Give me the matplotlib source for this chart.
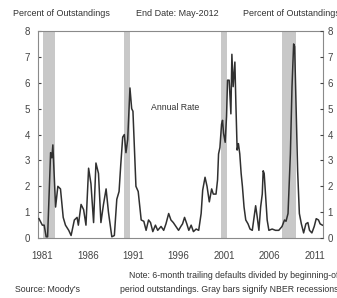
import matplotlib
matplotlib.use("Agg")
import matplotlib.pyplot as plt

plt.rcParams['font.family'] = ['Liberation Sans', 'DejaVu Sans']

years = [1981.1, 1981.47, 1981.67, 1981.89, 1982.05, 1982.38, 1982.52, 1982.63, 1982.93,
         1983.18, 1983.47, 1983.77, 1984.02, 1984.38, 1984.64, 1985.0, 1985.3, 1985.44,
         1985.74, 1986.02, 1986.28, 1986.57, 1986.83, 1987.12, 1987.38, 1987.66, 1987.93,
         1988.21, 1988.5, 1988.76, 1989.13, 1989.41, 1989.68, 1989.93, 1990.11, 1990.33,
         1990.51, 1990.69, 1990.88, 1991.13, 1991.32, 1991.46, 1991.79, 1992.04, 1992.37,
         1992.66, 1992.91, 1993.18, 1993.4, 1993.65, 1993.94, 1994.19, 1994.56, 1994.85,
         1995.1, 1995.4, 1995.65, 1995.91, 1996.2, 1996.49, 1996.74, 1996.93, 1997.15,
         1997.4, 1997.62, 1997.88, 1998.13, 1998.43, 1998.71, 1998.98, 1999.15, 1999.41,
         1999.63, 1999.88, 2000.14, 2000.32, 2000.62, 2000.79, 2000.9, 2001.05, 2001.23,
         2001.34, 2001.45, 2001.63, 2001.78, 2001.89, 2002.07, 2002.26, 2002.37, 2002.51,
         2002.7, 2002.81, 2002.95, 2003.09, 2003.24, 2003.39, 2003.53, 2003.71, 2003.9,
         2004.15, 2004.37, 2004.62, 2004.81, 2004.99, 2005.17, 2005.35, 2005.54, 2005.72,
         2005.82, 2005.93, 2006.09, 2006.26, 2006.45, 2006.81, 2007.18, 2007.54, 2007.9,
         2008.17, 2008.34, 2008.56, 2008.82, 2009.0, 2009.18, 2009.29, 2009.44, 2009.62,
         2009.81, 2010.03, 2010.28, 2010.53, 2010.75, 2010.93, 2011.19, 2011.45, 2011.67,
         2011.92, 2012.1, 2012.35]
rates = [0.75, 0.5, 0.5, 0.05, 0.05, 3.3, 3.1, 3.6, 1.2,
         2.0, 1.9, 0.8, 0.5, 0.3, 0.1, 0.7, 0.8, 0.5,
         1.3, 1.1, 0.5, 2.7, 2.1, 0.6, 2.9, 2.5, 0.6,
         1.3, 1.9, 1.0, 0.05, 0.1, 1.5, 1.8, 2.8, 3.9,
         4.0, 3.3, 3.8, 5.8, 5.0, 4.9, 2.0, 1.8, 0.7,
         0.65, 0.3, 0.7, 0.6, 0.25, 0.5, 0.3, 0.45, 0.3,
         0.55, 0.95, 0.7, 0.6, 0.45, 0.3, 0.45, 0.55, 0.8,
         0.55, 0.3, 0.5, 0.25, 0.35, 0.3, 0.95, 1.85, 2.35,
         2.0, 1.4, 1.9, 1.7, 1.7, 2.25, 3.25, 3.5, 4.4,
         4.55, 4.05, 3.7, 4.7, 6.1, 6.1, 4.8, 7.1, 5.85,
         6.8, 5.2, 3.4, 3.65, 3.25, 2.5, 2.0, 1.2, 0.7,
         0.55, 0.35, 0.3, 0.8, 1.25, 0.8, 0.3, 1.2, 1.7,
         2.6, 2.5, 1.6, 0.7, 0.3, 0.35, 0.3, 0.3, 0.45,
         0.7, 0.65, 0.95, 3.25, 5.85, 7.5, 7.4, 5.2, 2.6,
         0.95, 0.55, 0.2, 0.55, 0.6, 0.3, 0.2, 0.45, 0.75,
         0.7, 0.55, 0.5]

rec_start = [1981.5, 1990.5, 2001.17, 2007.92]
rec_end = [1982.88, 1991.17, 2001.88, 2009.46]

tick_years = [1981, 1986, 1991, 1996, 2001, 2006, 2011]
y_ticks = [0, 1, 2, 3, 4, 5, 6, 7, 8]

fig = plt.figure(figsize=(3.37, 2.98), dpi=100)
ax = fig.add_axes([0.113, 0.201, 0.845, 0.695])

for s, e in zip(rec_start, rec_end):
    ax.axvspan(s, e, color='#c8c8c8', lw=0, zorder=1)

ax.plot(years, rates, color='#303030', lw=1.1, zorder=3)

ax.set_xlim(1981.0, 2012.4)
ax.set_ylim(0, 8)
ax.set_xticks([y + 0.5 for y in tick_years])
ax.set_xticklabels([str(y) for y in tick_years])
ax.set_yticks(y_ticks)
ax.set_yticklabels([str(v) for v in y_ticks])
ax.tick_params(axis='y', direction='in', length=2.5, labelsize=7,
               colors='#444444', pad=6)
ax.tick_params(axis='x', direction='in', length=0, labelsize=7, colors='#444444', pad=9)
for sp in ax.spines.values():
    sp.set_color('#8a8a8a')
    sp.set_linewidth(0.8)

ax2 = ax.twinx()
ax2.set_ylim(0, 8)
ax2.set_yticks(y_ticks)
ax2.set_yticklabels([str(v) for v in y_ticks])
ax2.tick_params(axis='y', direction='in', length=2.5, labelsize=7,
                colors='#444444', pad=3.5)
for sp in ax2.spines.values():
    sp.set_visible(False)

ax.text(1993.4, 5.06, 'Annual Rate', fontsize=6.3, color='#333333', va='center', ha='left')

fig.text(13/337, 1 - 13/298, 'Percent of Outstandings', fontsize=6.5, color='#333333', va='center', ha='left')
fig.text(177/337, 1 - 13/298, 'End Date: May-2012', fontsize=6.5, color='#333333', va='center', ha='center')
fig.text(243/337, 1 - 13/298, 'Percent of Outstandings', fontsize=6.5, color='#333333', va='center', ha='left')

fig.text(1.005, 1 - 275/298, 'Note: 6-month trailing defaults divided by beginning-of',
         fontsize=6.3, color='#333333', va='center', ha='right')
fig.text(1.005, 1 - 290/298, 'period outstandings. Gray bars signify NBER recessions',
         fontsize=6.3, color='#333333', va='center', ha='right')
fig.text(15/337, 1 - 290/298, "Source: Moody's", fontsize=6.3, color='#333333', va='center', ha='left')

fig.savefig('out.png', dpi=100)
